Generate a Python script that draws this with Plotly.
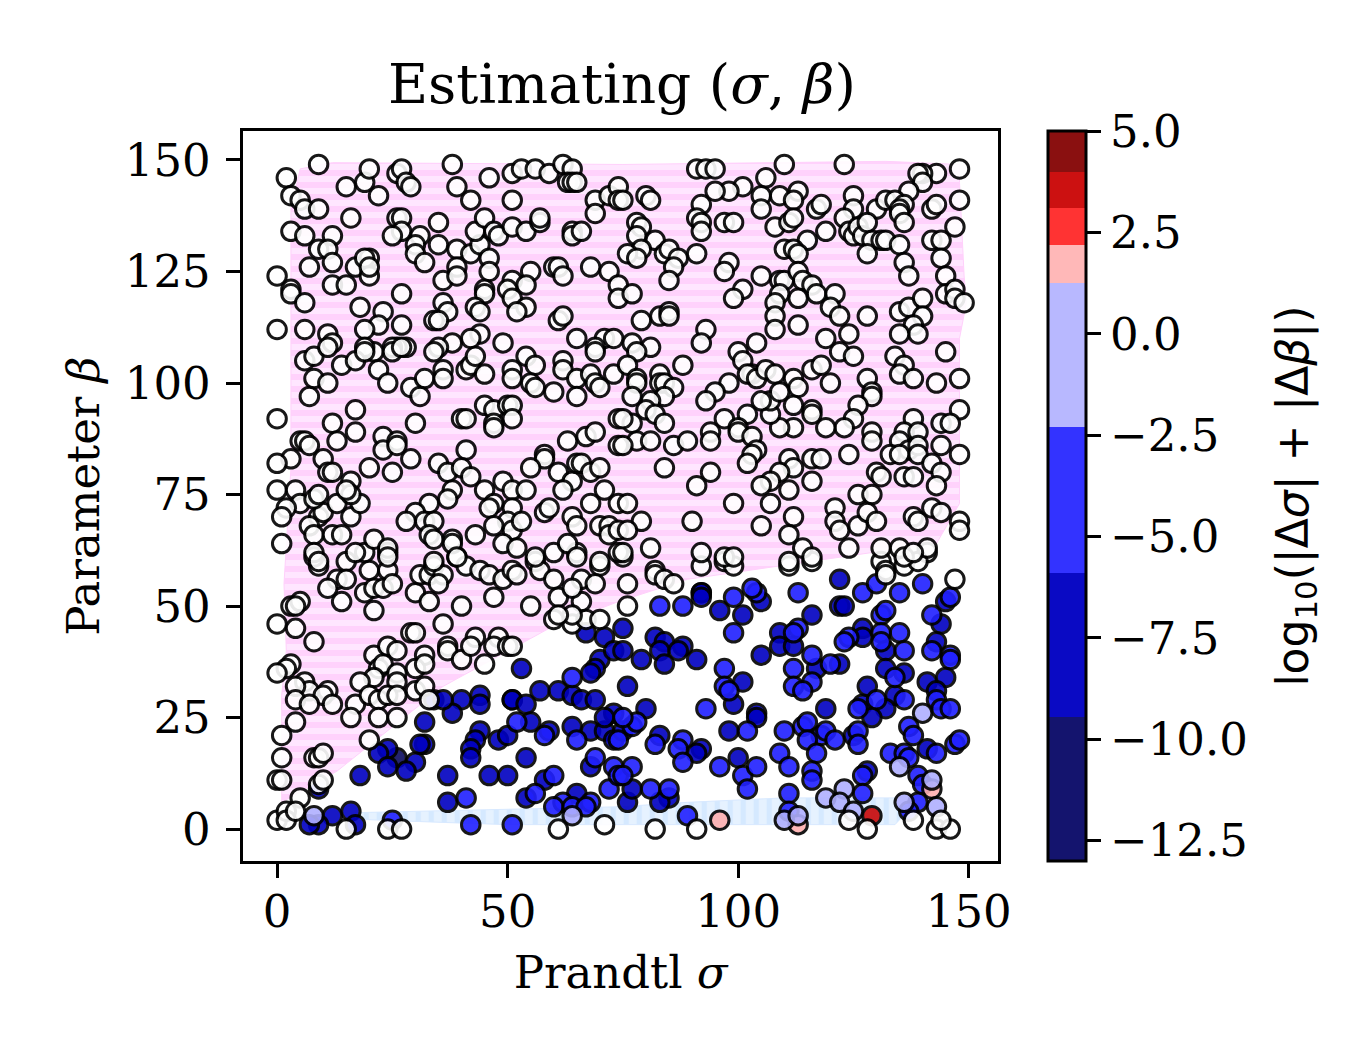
import plotly.graph_objects as go

# values, as (sigma, beta) pairs per error band
white_pts = [
    (9,59),(8,61),(15,60),(19,62),(20,58),(24,58),(24,62),(13,56),(15,56),(11,54),(19,53),(21,54),(23,54),(25,55),
    (14,51),(21,49),(30,53),(33,51),(31,57),(33,57),(34,59),(36,57),(35,55),(39,61),(41,59),(44,58),(46,57),(49,56),
    (51,58),(52,57),(56,60),(57,58),(60,56),(60,62),(65,62),(70,59),(66,56),(69,55),(47,52),(55,50),(61,52),(66,51),
    (64,54),(60,47),(40,50),(36,46),(29,44),(30,44),(64,46),(67,47),(70,47),(64,48),(61,48),(3,50),(5,51),(4,50),
    (0,46),(4,45),(8,42),(21,39),(24,41),(26,40),(32,39),(37,41),(37,40),(40,38),(43,43),(42,41),(48,43),(47,41),
    (50,41),(51,41),(45,37),(3,37),(2,36),(0,35),(22,36),(23,37),(21,34),(26,35),(26,33),(30,36),(32,37),(18,33),
    (6,33),(7,31),(4,32),(11,31),(10,30),(4,29),(7,28),(12,28),(17,28),(20,30),(22,29),(24,30),(26,30),(30,31),
    (32,32),(33,29),(16,25),(22,25),(26,25),(4,24),(1,21),(20,20),(1,16),(8,16),(9,16),(10,17),(0,11),(1,11),
    (9,10),(10,11),(5,7),(0,2),(2,4),(2,2),(4,4),(15,0),(24,0),(27,0),(61,0),(71,1),
    (75,61),(76,55),(76,50),(82,58),(82,57),(84,56),(86,55),(92,59),(92,62),(97,60),(99,59),(111,59),(116,60),
    (131,60),(132,58),(132,57),(136,59),(141,62),(139,60),(147,56),(82,0),(91,0),(124,2),(128,0),(138,2),(143,0),
    (146,0),(144,2),
    (9,149),(2,146),(3,142),(5,141),(6,139),(9,139),(3,134),(6,133),(12,133),(9,130),(11,130),(7,126),(12,127),
    (17,126),(20,128),(19,128),(20,124),(20,126),(0,124),(3,121),(3,120),(6,118),(12,122),(15,122),(18,117),(27,120),
    (23,116),(22,113),(19,112),(27,113),(0,112),(6,112),(11,111),(12,109),(15,144),(19,145),(20,148),(22,142),
    (26,147),(27,148),(28,145),(29,144),(16,137),(26,137),(27,137),(27,134),(25,133),(35,136),(35,131),(31,133),
    (30,131),(30,129),(32,127),(39,130),(42,129),(44,131),(43,134),(45,137),(47,134),(48,133),(51,135),(54,134),
    (57,136),(57,137),(64,134),(64,133),(66,134),(38,149),(39,144),(42,141),(46,146),(51,141),(51,147),(53,148),
    (56,148),(59,147),(62,149),(64,148),(63,145),(64,145),(65,145),(69,141),(69,138),(72,142),(74,144),(74,141),
    (36,123),(39,126),(39,124),(46,128),(46,125),(45,121),(45,120),(43,117),(44,116),(51,123),(50,121),(51,119),
    (55,125),(54,122),(54,117),(52,116),(60,126),(61,126),(62,124),(68,126),(72,125),(74,122),(74,119),(36,118),
    (37,116),(34,114),(35,114),(61,114),(62,115),(65,110),(71,110),(73,110),(69,108),(49,109),(44,111),(42,110),
    (38,109),(35,108),(34,107),(28,108),(26,108),(25,108),(21,107),(19,108),
    (6,105),(8,106),(11,108),(14,104),(17,105),(19,107),(25,107),(27,108),(22,103),(24,100),(29,99),(32,101),
    (31,97),(36,103),(36,101),(41,103),(42,104),(43,106),(45,102),(51,103),(51,101),(54,106),(56,104),(55,100),
    (56,99),(60,98),(62,105),(62,103),(65,101),(65,97),(69,107),(68,102),(69,100),(70,99),(73,102),(8,101),(11,100),
    (7,97),(17,94),(0,92),(12,91),(17,89),(13,87),(5,87),(6,87),(7,86),(3,83),(0,82),(10,83),(11,80),(12,80),(16,78),
    (20,81),(25,80),(23,88),(23,85),(26,87),(26,86),(29,83),(30,91),(40,92),(41,92),(45,95),(47,94),(50,95),(51,95),
    (51,92),(47,91),(47,90),(41,85),(35,82),(37,80),(40,81),(42,79),(38,76),(37,74),(45,76),(49,78),(51,76),(54,76),
    (58,84),(58,83),(55,81),(61,80),(64,78),(62,76),(65,82),(66,82),(68,80),(70,81),(71,76),(68,73),(63,87),(67,88),
    (69,89),(74,92),(74,86),(0,76),(4,76),(5,73),(2,72),(1,70),(9,70),(10,71),(8,74),(9,75),(13,73),(16,70),(18,73),
    (16,75),(15,76),(7,68),(8,66),(12,66),(14,66),(1,64),(8,62),(9,60),(21,65),(17,62),(24,63),(24,61),(33,73),(30,71),
    (28,69),(32,69),(34,69),(33,66),(34,65),(38,65),(38,64),(39,61),(43,66),(47,73),(46,72),(51,72),(50,69),(51,67),
    (53,69),(47,68),(49,64),(52,63),(56,61),(63,64),(65,61),(58,71),(59,72),(64,70),(65,68),(70,68),(72,68),(72,66),
    (74,67),(74,62),(70,60),(34,60),(74,73),
    (91,148),(93,148),(95,148),(110,149),(123,149),(148,148),(143,147),(140,147),(139,147),(140,145),(137,143),
    (148,141),(142,139),(143,140),(106,146),(101,144),(98,143),(95,143),(105,142),(109,142),(113,143),(112,141),
    (105,139),(92,140),(91,137),(92,136),(92,134),(97,136),(99,136),(108,135),(111,136),(112,137),(117,139),(118,140),
    (119,134),(115,132),(125,142),(125,139),(123,137),(124,134),(125,133),(126,135),(127,133),(129,132),(131,132),
    (132,132),(130,139),(128,136),(132,141),(134,141),(136,140),(135,139),(135,138),(136,136),(135,131),(128,129),
    (142,132),(144,132),(147,135),(144,128),(136,127),(137,124),(145,124),(145,120),(147,121),(147,119),(149,118),
    (75,141),(80,142),(81,141),(78,136),(79,135),(78,133),(82,132),(79,130),(76,129),(78,128),(84,129),(85,130),
    (87,128),(86,126),(91,129),(85,123),(77,120),(98,127),(97,125),(105,124),(110,130),(112,130),(113,129),(101,121),
    (99,119),(109,123),(110,123),(113,125),(114,123),(116,122),(117,120),(121,120),(120,117),(122,115),(109,120),
    (108,118),(113,119),(108,115),(108,112),(113,113),(119,110),(124,111),(128,115),(135,116),(137,117),(140,119),
    (140,115),(138,113),(139,111),(135,111),(79,114),(83,115),(85,116),(85,115),(93,112),(77,109),(81,108),
    (78,107),(76,104),(83,102),(88,104),(78,101),(78,100),(83,100),(84,100),(86,99),(84,97),(81,96),(77,97),(80,94),
    (82,93),(77,91),(75,92),(84,91),(78,87),(81,87),(75,86),(86,86),(89,87),(92,109),(100,107),(101,105),(104,109),
    (103,102),(102,102),(104,101),(106,103),(108,102),(112,101),(113,99),(116,103),(118,104),(120,100),(122,107),
    (125,106),(98,100),(95,98),(93,96),(128,101),(129,98),(129,97),(126,95),(125,92),(123,90),(119,90),(116,94),
    (116,93),(112,95),(112,90),(109,90),(107,93),(107,96),(109,98),(105,96),(102,93),(97,92),(100,90),(100,89),(103,88),
    (104,85),(103,84),(102,82),(94,89),(94,87),(134,106),(136,104),(135,102),(138,101),(143,100),(148,101),(145,107),
    (148,94),(144,91),(146,91),(138,92),(136,89),(139,89),(129,89),(129,87),(135,87),(137,85),(139,86),(139,84),(144,86),
    (133,84),(135,84),(148,84),(124,84),(116,83),(118,83),(111,83),(112,81),(116,78),(109,80),(107,78),(105,77),(111,76),
    (107,73),(130,80),(131,79),(136,79),(138,79),(142,82),(144,80),(143,77),(126,75),(129,75),(76,73),(84,81),(94,80),
    (91,77),(99,73),(90,69),(79,69),(76,67),(81,63),(75,62),(105,68),(112,70),(111,66),(114,63),(116,61),(111,60),(121,72),
    (121,69),(122,67),(126,68),(128,71),(130,69),(124,63),(97,61),(99,61),(131,63),(135,63),(138,70),(139,69),(142,72),
    (144,71),(148,69),(148,67),(141,63),(136,61),(138,62),
]
navy_pts = [(26,16)]
dark_pts = [
    (53,36),(71,43),(67,44),(70,38),(69,36),(68,35),(57,31),(61,31),(64,30),(66,29),(69,29),(44,30),(44,28),(40,29),
    (38,26),(34,29),(36,29),(51,29),(51,29),(54,28),(55,24),(59,22),(64,23),(68,22),(71,22),(73,26),(71,25),(73,20),
    (32,24),(32,19),(31,19),(24,18),(22,17),(24,14),(30,15),(28,13),(18,12),(44,22),(43,20),(42,18),(42,16),(48,20),
    (50,21),(54,16),(37,12),(46,12),(50,12),(9,9),(68,14),(58,11),(54,7),(37,6),(65,8),(12,3),(16,4),(17,1),(9,1),(7,1),
    (73,40),(122,56),(92,53),(92,53),(92,52),(96,49),(101,48),(75,45),(82,43),(84,42),(83,40),(84,37),(88,41),(87,40),
    (91,38),(79,38),(75,40),(76,32),(80,27),(105,51),(145,51),(144,46),(116,48),(109,44),(109,41),(112,41),(105,39),
    (122,50),(123,50),(127,45),(127,43),(132,40),(143,42),(122,37),(117,36),(132,36),(136,35),(145,34),(141,33),(143,31),
    (128,32),(134,30),(127,28),(132,27),(129,25),(119,27),(101,33),(99,28),(104,26),(104,25),(98,22),(83,21),(92,18),
    (91,17),(100,16),(125,21),(141,18),(128,13),(75,22),(85,7),(83,6),(76,6),(77,9),
]
mid_pts = [
    (64,34),(52,24),(58,21),(65,20),(69,16),(60,12),(56,8),(41,7),(72,9),(73,14),(74,12),(62,6),(60,5),(64,5),(68,6),
    (67,5),(42,1),(51,1),(25,2),(104,53),(103,54),(99,52),(99,44),(88,50),(83,50),(113,53),(127,53),(130,55),(135,53),
    (140,55),(146,52),(142,48),(131,48),(132,49),(135,44),(113,45),(112,44),(124,43),(123,42),(131,44),(131,42),(136,40),
    (142,40),(146,39),(146,38),(116,39),(120,37),(112,36),(134,34),(116,33),(112,32),(114,31),(136,29),(130,29),(126,27),
    (143,29),(144,27),(146,27),(97,36),(97,32),(98,31),(93,27),(102,22),(82,19),(88,20),(87,18),(88,15),(96,14),(101,12),
    (104,14),(102,9),(110,22),(114,23),(115,24),(118,21),(119,22),(115,20),(121,20),(117,17),(109,17),(111,14),(116,13),
    (116,11),(126,22),(126,19),(137,23),(138,21),(143,17),(147,19),(148,20),(133,17),(136,17),(137,16),(139,12),(140,10),
    (127,12),(127,8),(111,8),(111,4),(139,6),(137,4),(89,3),(77,23),(78,24),(75,25),(74,20),(77,14),(75,12),(81,9),(85,9),
]
pale_pts = [(64,3),(8,3),(140,26),(135,14),(142,11),(119,7),(123,9),(122,6),(125,4),(136,6),(143,5),(110,2),(113,3)]
salmon_pts = [(142,9),(113,1),(96,2)]
red_pts = [(129,3)]

# outlines of the two shaded regions
pink_x = [5,12,75,132,148,148,149,149.5,148,148,143,129,89,74,59,36,13,1,1,2,1.5,3,3,3,5]
pink_y = [148,149.4,149,149.7,149,145,124,118,110,73,64,62,56,51,45,32,13,6,30,40,55,81,102,139,148]
blue_x = [17.6,74,89,110,134,135.8,134,64,50,36,17.6]
blue_y = [3.7,5,6,7,7,3,1,1,1,1.5,2.2]

cbar_levels = [-13,-9.45,-5.9,-2.3,1.25,2.2,3.1,4,5]
cbar_colors = ["#14146e","#0a0ac4","#3333ff","#b8b8ff","#ffb8b8","#ff3333","#cc1111","#8a1010"]
cbar_ticks = [-12.5,-10,-7.5,-5,-2.5,0,2.5,5]

SERIF = "DejaVu Serif"
W, H = 1365, 1050

# step colorscale for the colorbar
scale = []
for n, col in enumerate(cbar_colors):
    scale.append([(cbar_levels[n] + 13) / 18, col])
    scale.append([(cbar_levels[n + 1] + 13) / 18, col])

fig = go.Figure()

fig.add_trace(go.Scatter(
    x=pink_x, y=pink_y, mode="lines", line=dict(width=1, color="#ffd0fb"), fill="toself",
    fillcolor="#ffe6ff",
    fillpattern=dict(shape="-", bgcolor="#ffe6ff", fgcolor="#ffbef9", size=12, solidity=0.5),
    hoverinfo="skip", showlegend=False,
))
fig.add_trace(go.Scatter(
    x=blue_x, y=blue_y, mode="lines", line=dict(width=1, color="#d8e9ff"), fill="toself",
    fillcolor="#e6f2ff",
    fillpattern=dict(shape="|", bgcolor="#e6f2ff", fgcolor="#c4e0ff", size=13, solidity=0.4),
    hoverinfo="skip", showlegend=False,
))

groups = [
    (navy_pts, "#0c0c60"), (dark_pts, "#0000c0"), (mid_pts, "#2020ff"), (salmon_pts, "#ffb0b0"),
    (pale_pts, "#b0b0ff"), (red_pts, "#c80808"), (white_pts, "#ffffff"),
]
for pts, col in groups:
    fig.add_trace(go.Scatter(
        x=[p[0] for p in pts], y=[p[1] for p in pts], mode="markers",
        marker=dict(size=18.5, color=col, opacity=0.9, line=dict(color="black", width=3)),
        showlegend=False,
    ))

# dummy trace, only carries the colorbar
fig.add_trace(go.Scatter(
    x=[None], y=[None], mode="markers", showlegend=False,
    marker=dict(
        color=[0], cmin=-13, cmax=5, colorscale=scale, showscale=True,
        colorbar=dict(
            x=1050 / W, xanchor="left", y=1 - 853 / H, yanchor="bottom",
            len=730 / H, lenmode="fraction", thickness=38, thicknessmode="pixels",
            outlinewidth=3, outlinecolor="black", xpad=0, ypad=0,
            tickvals=cbar_ticks, tickformat=".1f", ticks="outside", ticklen=14, tickwidth=3,
            tickcolor="black", tickfont=dict(family=SERIF, size=45, color="black"),
        ),
    ),
))

fig.update_layout(
    width=W, height=H, autosize=False,
    margin=dict(l=0, r=0, t=0, b=0),
    paper_bgcolor="white", plot_bgcolor="white",
    font=dict(family=SERIF, size=45, color="black"),
    title=dict(
        text="Estimating (<i>σ</i>, <i>β</i>)", font=dict(family=SERIF, size=55, color="black"),
        x=614 / W, xanchor="center", y=1 - 76 / H, yanchor="middle",
    ),
    xaxis=dict(
        domain=[237 / W, 1000 / W], range=[-7.45, 156.45],
        tickvals=[0, 50, 100, 150], ticks="outside", ticklen=14, tickwidth=3, tickcolor="black",
        showline=True, linewidth=3, linecolor="black", mirror=True, showgrid=False, zeroline=False,
        ticklabelstandoff=-5,
        title=dict(text="Prandtl <i>σ</i>", standoff=20, font=dict(family=SERIF, size=45)),
        tickfont=dict(family=SERIF, size=45),
    ),
    yaxis=dict(
        domain=[1 - 853 / H, 1 - 123 / H], range=[-7.15, 156.5],
        tickvals=[0, 25, 50, 75, 100, 125, 150], ticks="outside", ticklen=14, tickwidth=3, tickcolor="black",
        showline=True, linewidth=3, linecolor="black", mirror=True, showgrid=False, zeroline=False,
        ticklabelstandoff=6,
        title=dict(text="Parameter <i>β</i>", standoff=12, font=dict(family=SERIF, size=45)),
        tickfont=dict(family=SERIF, size=45),
    ),
    annotations=[dict(
        text="log<sub>10</sub>(|Δ<i>σ</i>| + |Δ<i>β</i>|)", textangle=-90, showarrow=False,
        xref="paper", yref="paper", x=1300 / W, y=1 - 488 / H, xanchor="center", yanchor="middle",
        font=dict(family="DejaVu Sans", size=44, color="black"),
    )],
)

fig.write_html("out.html")
